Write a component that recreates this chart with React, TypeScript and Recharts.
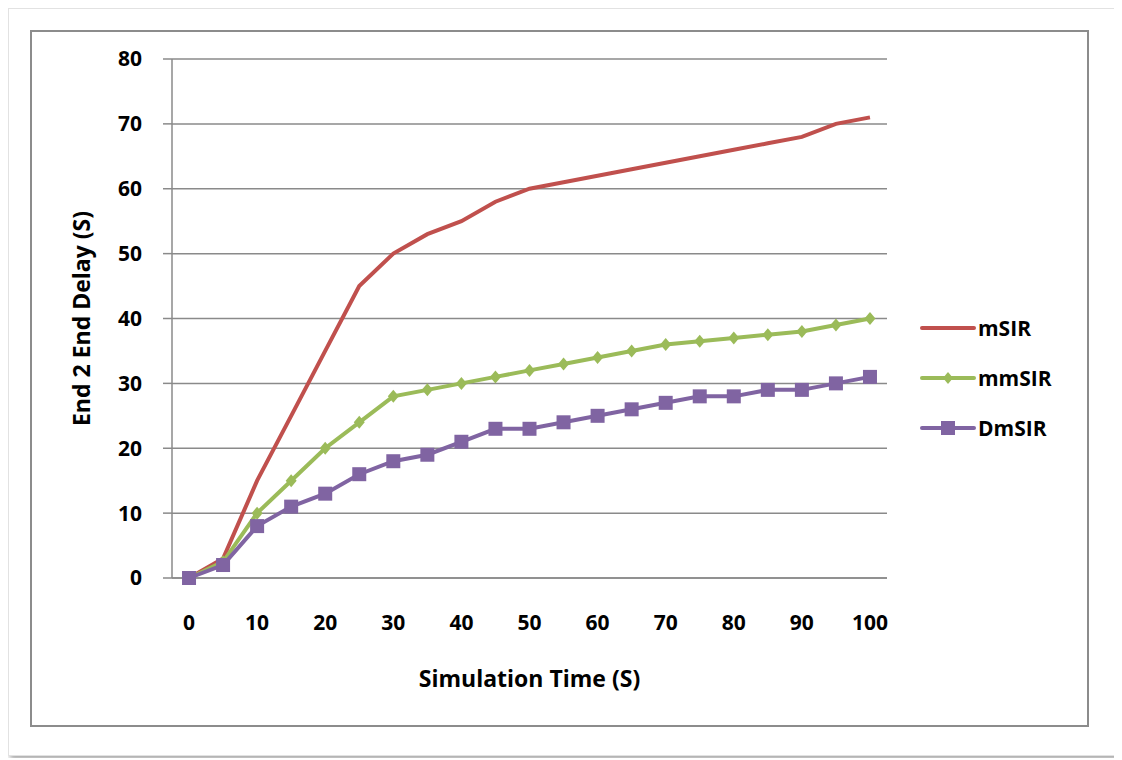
import { LineChart, Line, XAxis, YAxis, CartesianGrid } from 'recharts'

const times = [0, 5, 10, 15, 20, 25, 30, 35, 40, 45, 50, 55, 60, 65, 70, 75, 80, 85, 90, 95, 100]
const mSIR = [0, 3, 15, 25, 35, 45, 50, 53, 55, 58, 60, 61, 62, 63, 64, 65, 66, 67, 68, 70, 71]
const mmSIR = [0, 2.5, 10, 15, 20, 24, 28, 29, 30, 31, 32, 33, 34, 35, 36, 36.5, 37, 37.5, 38, 39, 40]
const DmSIR = [0, 2, 8, 11, 13, 16, 18, 19, 21, 23, 23, 24, 25, 26, 27, 28, 28, 29, 29, 30, 31]
const xTicks = [0, 10, 20, 30, 40, 50, 60, 70, 80, 90, 100]
const yTicks = [0, 10, 20, 30, 40, 50, 60, 70, 80]

const RED = '#C0504D'
const GREEN = '#9BBB59'
const PURPLE = '#8064A2'
const GRID = '#8a8a8a'
const FONT = '"Open Sans", Lato, sans-serif'

const rows = times.map((t, i) => ({ t, mSIR: mSIR[i], mmSIR: mmSIR[i], DmSIR: DmSIR[i] }))

const Diamond = (props: any) => {
  const { cx, cy } = props
  if (cx == null || cy == null) return null
  return <path d={`M${cx},${cy - 6.5}L${cx + 5.5},${cy}L${cx},${cy + 6.5}L${cx - 5.5},${cy}Z`} fill={GREEN} />
}

const Square = (props: any) => {
  const { cx, cy } = props
  if (cx == null || cy == null) return null
  return <rect x={cx - 7} y={cy - 7} width={14} height={14} fill={PURPLE} />
}

const legendItems = [
  { name: 'mSIR', color: RED, marker: 'none' },
  { name: 'mmSIR', color: GREEN, marker: 'diamond' },
  { name: 'DmSIR', color: PURPLE, marker: 'square' },
]

function ChartLegend() {
  return (
    <div style={{ fontFamily: FONT, fontWeight: 700, fontSize: 21, color: '#000', lineHeight: 1 }}>
      {legendItems.map((it) => (
        <div key={it.name} style={{ display: 'flex', alignItems: 'center', height: 50 }}>
          <svg width={58} height={20}>
            <line x1={2} y1={10} x2={54} y2={10} stroke={it.color} strokeWidth={4} strokeLinecap="round" />
            {it.marker === 'diamond' && <path d="M28,4L33,10L28,16L23,10Z" fill={it.color} />}
            {it.marker === 'square' && <rect x={21} y={3} width={14} height={14} fill={it.color} />}
          </svg>
          <span style={{ marginLeft: 0 }}>{it.name}</span>
        </div>
      ))}
    </div>
  )
}

export default function App() {
  const tickStyle = { fill: '#000', fontSize: 21, fontWeight: 700, fontFamily: FONT }
  const titleStyle = { fill: '#000', fontSize: 23, fontWeight: 700, fontFamily: FONT }
  return (
    <div style={{ position: 'relative', width: 1114, height: 750 }}>
      <div
        style={{
          position: 'absolute',
          left: 0,
          top: 0,
          width: 1112,
          height: 748,
          boxSizing: 'border-box',
          background: '#fff',
          border: '1px solid #e2e2e2',
          boxShadow: '2px 3px 5px rgba(0,0,0,0.35)',
        }}
      />
      <div
        style={{
          position: 'absolute',
          left: 22,
          top: 22,
          width: 1059,
          height: 697,
          boxSizing: 'border-box',
          border: '2px solid #8c8c8c',
        }}
      />
      <div style={{ position: 'absolute', left: 0, top: 0 }}>
        <LineChart width={1106} height={744} data={rows} margin={{ top: 51, right: 227, bottom: 114, left: 20 }}>
          <CartesianGrid vertical={false} stroke={GRID} strokeWidth={1.5} />
          <XAxis
            dataKey="t"
            type="number"
            domain={[-2.5, 102.5]}
            ticks={xTicks}
            height={60}
            tickLine={false}
            tickSize={0}
            tickMargin={37}
            axisLine={{ stroke: GRID, strokeWidth: 1.5 }}
            tick={tickStyle}
            label={{
              value: 'Simulation Time (S)',
              position: 'bottom',
              offset: 33,
              style: titleStyle,
            }}
          />
          <YAxis
            type="number"
            domain={[0, 80]}
            ticks={yTicks}
            width={144}
            tickSize={9}
            tickMargin={21}
            tickLine={{ stroke: GRID, strokeWidth: 1.5 }}
            axisLine={{ stroke: GRID, strokeWidth: 1.5 }}
            tick={tickStyle}
            label={{
              value: 'End 2 End Delay (S)',
              angle: -90,
              position: 'insideLeft',
              offset: 54,
              style: { ...titleStyle, textAnchor: 'middle' },
            }}
          />
          <Line
            type="linear"
            dataKey="mSIR"
            stroke={RED}
            strokeWidth={4}
            dot={false}
            isAnimationActive={false}
          />
          <Line
            type="linear"
            dataKey="mmSIR"
            stroke={GREEN}
            strokeWidth={4}
            dot={<Diamond />}
            isAnimationActive={false}
          />
          <Line
            type="linear"
            dataKey="DmSIR"
            stroke={PURPLE}
            strokeWidth={4}
            dot={<Square />}
            isAnimationActive={false}
          />
        </LineChart>
      </div>
      <div style={{ position: 'absolute', left: 912, top: 295 }}>
        <ChartLegend />
      </div>
    </div>
  )
}
